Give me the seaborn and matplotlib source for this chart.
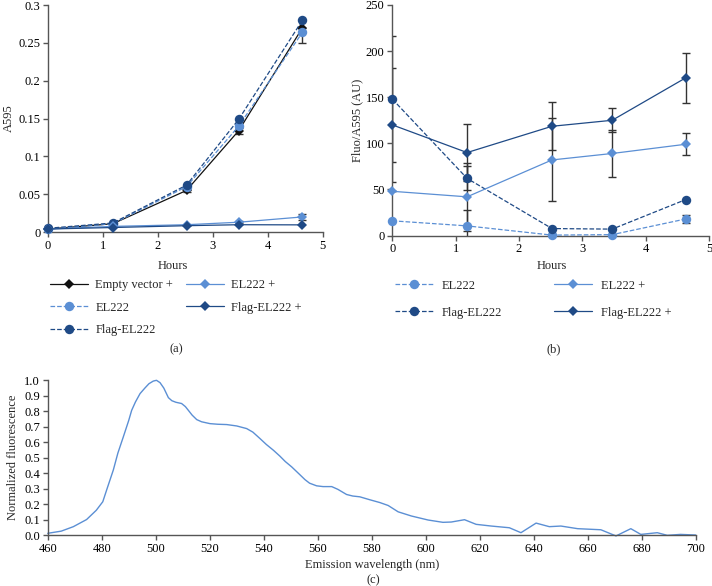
import numpy as np
import pandas as pd
import matplotlib
matplotlib.use("Agg")
import matplotlib.pyplot as plt
import seaborn as sns

sns.set_theme(style="ticks")
plt.rcParams['font.family'] = ['Liberation Serif', 'DejaVu Serif']

# ---------------- data ----------------
hours = [0, 1.18, 2.52, 3.47, 4.63]

# panel (a): A595
a_empty_plus = [0.004, 0.011, 0.055, 0.134, 0.270]
a_el222_plus = [0.004, 0.0075, 0.0097, 0.013, 0.020]
a_el222 = [0.004, 0.011, 0.060, 0.140, 0.264]
a_flag_plus = [0.004, 0.006, 0.0084, 0.0097, 0.0095]
a_flag = [0.005, 0.012, 0.062, 0.149, 0.280]
a_empty_plus_err = [0.0, 0.0, 0.002, 0.005, 0.020]
a_el222_plus_err = [0.0, 0.0, 0.0, 0.001, 0.004]

# panel (b): Fluo/A595
b_el222 = [16, 10.5, 0.5, 1, 18]
b_flag = [148, 62, 7.6, 7, 39]
b_el222_plus = [48, 42, 82, 89, 99]
b_flag_plus = [120, 90, 118.5, 125, 171]
b_el222_err = [0, 17, 0, 0, 4.5]
b_flag_err = [68, 13, 0, 0, 0]
b_el222_plus_err = [0, 37, 45, 26, 12]
b_flag_plus_err = [62, 31, 26, 13, 27]

# panel (c): emission spectrum
wavelength = [460, 465, 469.5, 474.4, 478, 480.4, 482, 484.3, 486, 488, 490, 491.1,
              492.5, 494.2, 496, 497.5, 499.1, 500.3, 501.6, 503, 504.7, 506, 507.5,
              509.6, 511, 512.1, 513.5, 515.2, 517, 520.1, 523, 526.3, 530, 533.7,
              536, 538.6, 541, 543.6, 546, 548, 550.4, 553.4, 555.3, 557, 559.6,
              562, 565.2, 567.5, 570.7, 573, 575.6, 579.3, 583, 586.1, 589.8, 594.7,
              600.9, 606.4, 609.5, 614.4, 618.7, 624.3, 631.0, 635.3, 640.9, 645.8,
              650.1, 656.3, 664.9, 670.5, 676.0, 679.7, 685.8, 689.5, 694.4, 700]
fluorescence = [0.011, 0.025, 0.054, 0.10, 0.16, 0.215, 0.30, 0.42, 0.53, 0.634, 0.74,
                0.806, 0.86, 0.914, 0.95, 0.978, 0.995, 1.0, 0.985, 0.95, 0.888, 0.868,
                0.858, 0.85, 0.83, 0.806, 0.775, 0.746, 0.732, 0.72, 0.716, 0.714,
                0.705, 0.688, 0.665, 0.624, 0.585, 0.548, 0.51, 0.475, 0.44, 0.39,
                0.358, 0.335, 0.318, 0.313, 0.313, 0.295, 0.262, 0.252, 0.247, 0.228,
                0.21, 0.191, 0.150, 0.123, 0.097, 0.082, 0.084, 0.099, 0.069, 0.058,
                0.047, 0.015, 0.077, 0.054, 0.058, 0.041, 0.034, -0.006, 0.041, 0.004,
                0.015, -0.002, 0.004, 0.0]

LIGHT = "#5b8fd4"
DARK = "#1f4a86"
BLACK = "#111111"
ERR = "#333333"
SPINE = "#555555"
FS = 9

W, H = 712, 586
fig = plt.figure(figsize=(W / 100, H / 100), dpi=100)
ax_a = fig.add_axes([0.0674, 0.604, 0.386, 0.3874])
ax_b = fig.add_axes([0.551, 0.598, 0.445, 0.3935])
ax_c = fig.add_axes([0.067, 0.087, 0.910, 0.264])


def fx(px):
    return px / W


def fy(py):
    return 1 - py / H


def draw(ax, y, color, ls, marker, ms, label, err=None, lw=0.9):
    df = pd.DataFrame({"Hours": hours, "val": y})
    if err is not None:
        ax.errorbar(hours, y, yerr=err, fmt="none", ecolor=ERR, elinewidth=1.0,
                    capsize=3, capthick=1.0, zorder=2)
    sns.lineplot(data=df, x="Hours", y="val", ax=ax, color=color, linestyle=ls,
                 marker=marker, markersize=ms, markeredgewidth=0, lw=lw,
                 label=label, estimator=None, zorder=3, clip_on=False)


# ---- panel (a) ----
draw(ax_a, a_empty_plus, BLACK, "-", "D", 4.8, "Empty vector +",
     err=[a_empty_plus_err, [0, 0, 0, 0.003, 0]])
draw(ax_a, a_el222, LIGHT, "--", "o", 6.8, "EL222")
draw(ax_a, a_flag, DARK, "--", "o", 6.8, "Flag-EL222")
draw(ax_a, a_el222_plus, LIGHT, "-", "D", 4.8, "EL222 +", err=a_el222_plus_err)
draw(ax_a, a_flag_plus, DARK, "-", "D", 4.8, "Flag-EL222 +")

ax_a.set_xlim(0, 5)
ax_a.set_ylim(0, 0.3)
ax_a.set_xticks([0, 1, 2, 3, 4, 5])
ax_a.set_yticks([0, 0.05, 0.1, 0.15, 0.2, 0.25, 0.3])
ax_a.set_yticklabels(["0", "0.05", "0.1", "0.15", "0.2", "0.25", "0.3"])
ax_a.set_xlabel("")
ax_a.set_ylabel("A595", fontsize=FS)
ax_a.yaxis.set_label_coords(-0.12, 0.5)

# ---- panel (b) ----
draw(ax_b, b_el222, LIGHT, "--", "o", 6.8, "EL222", err=b_el222_err)
draw(ax_b, b_flag, DARK, "--", "o", 6.8, "Flag-EL222", err=b_flag_err)
draw(ax_b, b_el222_plus, LIGHT, "-", "D", 4.8, "EL222 +", err=b_el222_plus_err)
draw(ax_b, b_flag_plus, DARK, "-", "D", 4.8, "Flag-EL222 +", err=b_flag_plus_err)

ax_b.set_xlim(0, 5)
ax_b.set_ylim(0, 250)
ax_b.set_xticks([0, 1, 2, 3, 4, 5])
ax_b.set_yticks([0, 50, 100, 150, 200, 250])
ax_b.set_xlabel("")
ax_b.set_ylabel("Fluo/A595 (AU)", fontsize=FS)
ax_b.yaxis.set_label_coords(-0.093, 0.5)

for ax in (ax_a, ax_b, ax_c):
    sns.despine(ax=ax)
    for s in ("left", "bottom"):
        ax.spines[s].set_color(SPINE)
        ax.spines[s].set_linewidth(1.0)
    ax.tick_params(axis="both", direction="out", length=3.5, width=1.0,
                   color=SPINE, labelsize=FS, labelcolor="black", pad=2)

# legends (positioned in figure coordinates)
h, l = ax_a.get_legend_handles_labels()
ax_a.legend(h, l, ncol=2, loc="upper left", bbox_to_anchor=(fx(44), fy(273)),
            bbox_transform=fig.transFigure, borderpad=0,
            frameon=False, fontsize=FS, handlelength=3.0, columnspacing=1.05,
            handletextpad=0.6, labelspacing=0.85)
h, l = ax_b.get_legend_handles_labels()
ax_b.legend(h, l, ncol=2, loc="upper left", bbox_to_anchor=(fx(389), fy(273.5)),
            bbox_transform=fig.transFigure, borderpad=0,
            frameon=False, fontsize=FS, handlelength=3.0, columnspacing=4.2,
            handletextpad=0.7, labelspacing=1.2)

fig.text(fx(173), fy(265.7), "Hours", ha="center", va="center", fontsize=FS)
fig.text(fx(551.7), fy(265.7), "Hours", ha="center", va="center", fontsize=FS)
fig.text(fx(176.7), fy(349), "(a)", ha="center", va="center", fontsize=FS)
fig.text(fx(554), fy(349), "(b)", ha="center", va="center", fontsize=FS)

# ---- panel (c) ----
spec = pd.DataFrame({"wl": wavelength, "fl": fluorescence})
sns.lineplot(data=spec, x="wl", y="fl", ax=ax_c, color=LIGHT, lw=1.0,
             estimator=None, clip_on=False)
ax_c.set_xlim(460, 700)
ax_c.set_ylim(0, 1.0)
ax_c.set_xticks(np.arange(460, 701, 20))
ax_c.set_yticks(np.arange(0, 1.01, 0.1))
ax_c.set_yticklabels([f"{v:.1f}" for v in np.arange(0, 1.01, 0.1)])
ax_c.set_xlabel("Emission wavelength (nm)", fontsize=FS, labelpad=3)
ax_c.set_ylabel("Normalized fluorescence", fontsize=FS, labelpad=4)
fig.text(fx(373), fy(580), "(c)", ha="center", va="center", fontsize=FS)

fig.savefig("out.png", dpi=100)
